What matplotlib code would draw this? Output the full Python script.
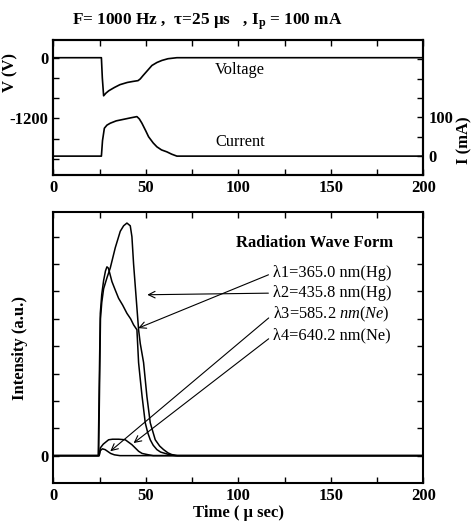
import matplotlib.pyplot as plt
import numpy as np

plt.rcParams['font.family'] = ['Liberation Serif', 'DejaVu Serif']
plt.rcParams['mathtext.default'] = 'regular'
plt.rcParams['mathtext.fontset'] = 'custom'
plt.rcParams['mathtext.it'] = 'Liberation Serif:italic'
plt.rcParams['mathtext.rm'] = 'Liberation Serif'

# top panel: voltage (V) and current (mA) against time (us)
t_v = [0, 26.0, 26.5, 27.2, 28.5, 30, 33, 36, 40, 43, 45.8, 47, 48.5, 51, 53.3, 56, 58.7, 62, 66.8, 100, 150, 200]
volt = [0, 0, -400, -754, -700, -654, -590, -534, -490, -470, -454, -420, -354, -250, -154, -95, -54, -20, 0, 0, 0, 0]
t_i = [0, 26.0, 26.6, 27.6, 29, 30.8, 34, 38, 42, 45.2, 46.5, 47.9, 50, 51.5, 54, 56, 58.5, 61.4, 64, 66.8, 100, 150, 200]
curr = [0, 0, 40, 72, 80, 85, 91, 95, 99, 102, 96, 85, 65, 50, 34, 24, 16, 11, 5, 0, 0, 0, 0]

# bottom panel: radiation intensity (a.u.)
t_l1 = [0, 24.3, 24.8, 25.4, 26.2, 27.2, 28.2, 29.0, 29.8, 31.7, 33.5, 35.3, 37.5, 39.8, 41.8, 43.4, 45.2,
        46.1, 47.0, 48.0, 49.7, 51.0, 52.4, 54, 56, 58, 60.5, 63, 66, 200]
i_l1 = [0, 0, 2.5, 5.2, 5.9, 6.4, 6.75, 6.9, 6.85, 6.36, 6.05, 5.75, 5.5, 5.2, 5.0, 4.78, 4.6,
        3.4, 2.8, 2.16, 1.2, 0.85, 0.58, 0.38, 0.22, 0.13, 0.08, 0.03, 0, 0]
t_l2 = [0, 24.5, 25.0, 25.5, 26.2, 27.2, 29, 30.8, 33.5, 36.2, 38, 39.8, 41.6, 42.5, 43.4, 44.3, 45.2,
        46.1, 47, 48.8, 50.6, 52.4, 55.1, 57.5, 59.6, 62, 64, 67, 200]
i_l2 = [0, 0, 2.5, 5.0, 5.6, 6.1, 6.5, 6.86, 7.6, 8.2, 8.4, 8.5, 8.4, 8.0, 7.0, 6.2, 5.4,
        4.6, 4.1, 3.4, 2.16, 1.2, 0.58, 0.35, 0.22, 0.1, 0.04, 0, 0]
t_l3 = [0, 24.8, 25.4, 26.5, 28, 29.5, 31, 33, 36, 200]
i_l3 = [0, 0, 0.18, 0.25, 0.22, 0.15, 0.08, 0.03, 0, 0]
t_l4 = [0, 24.8, 25.4, 27, 29.9, 32, 35.3, 38.9, 40.5, 42.5, 44, 46.1, 48, 51.5, 54, 200]
i_l4 = [0, 0, 0.28, 0.42, 0.58, 0.6, 0.6, 0.58, 0.5, 0.4, 0.3, 0.16, 0.08, 0.03, 0, 0]

labels = ['λ1=365.0 nm(Hg)', 'λ2=435.8 nm(Hg)', 'λ3=585.2 $\\mathit{nm(Ne)}$', 'λ4=640.2 nm(Ne)']
label_y = [6.67, 5.94, 5.15, 4.38]
arrow_tip = [(45.9, 4.66), (50.8, 5.88), (30.8, 0.16), (43.4, 0.46)]

bold = dict(fontweight='bold', fontsize=12)
plain = 11.8

fig = plt.figure(figsize=(4.75, 5.27), dpi=100)

# ---- top panel
ax1 = fig.add_axes([0.1122, 0.667, 0.779, 0.258])
ax1.plot(t_v, volt, color='k', lw=1.2)
ax1.set_xlim(0, 200)
ax1.set_ylim(-2332, 360)
ax1.set_yticks([0, -400, -800, -1200, -1600, -2000])
ax1.set_yticklabels(['0', '', '', '-1200', '', ''], **bold)
ax1.set_xticks([0, 50, 100, 150, 200])
ax1.set_xticklabels(['0', '50', '100', '150', '200'], **bold)
ax1.set_xticks([25, 75, 125, 175], minor=True)
ax1.tick_params(which='both', direction='in', top=True, length=4.5, width=1)
ax1.set_ylabel('V (V)', **bold)
ax1.yaxis.set_label_coords(-0.095, 0.754)
ax1.text(101, -250, 'Voltage', ha='center', va='center', fontsize=plain)

ax1r = ax1.twinx()
ax1r.plot(t_i, curr, color='k', lw=1.2)
ax1r.set_ylim(-50, 301)
ax1r.set_yticks([0, 50, 100, 150, 200, 250])
ax1r.set_yticklabels(['0', '', '100', '', '', ''], **bold)
ax1r.tick_params(direction='in', length=4.5, width=1)
ax1r.set_ylabel('I (mA)', **bold)
ax1r.yaxis.set_label_coords(1.09, 0.263)
ax1r.text(101, 36, 'Current', ha='center', va='center', fontsize=plain)

for ax in (ax1, ax1r):
    for s in ax.spines.values():
        s.set_linewidth(1.5)

fig.text(72 / 475, 1 - 22 / 527, 'F= 1000 Hz ,  τ=25 μs   , I$_p$ = 100 mA',
         ha='left', va='center', fontweight='bold', fontsize=12.4)

# ---- bottom panel
ax2 = fig.add_axes([0.1122, 0.0835, 0.779, 0.514])
for t, v in [(t_l1, i_l1), (t_l2, i_l2), (t_l3, i_l3), (t_l4, i_l4)]:
    ax2.plot(t, v, color='k', lw=1.1)
ax2.set_xlim(0, 200)
ax2.set_ylim(-1, 8.9)
ax2.set_yticks(range(0, 9))
ax2.set_yticklabels(['0'] + [''] * 8, **bold)
ax2.set_xticks([0, 50, 100, 150, 200])
ax2.set_xticklabels(['0', '50', '100', '150', '200'], **bold)
ax2.set_xticks([25, 75, 125, 175], minor=True)
ax2.tick_params(which='both', direction='in', top=True, right=True, length=4.5, width=1)
for s in ax2.spines.values():
    s.set_linewidth(1.5)
ax2.set_xlabel('Time ( μ sec)', labelpad=1, **bold)
ax2.set_ylabel('Intensity (a.u.)', **bold)
ax2.yaxis.set_label_coords(-0.068, 0.5)

ax2.text(141, 7.78, 'Radiation Wave Form', ha='center', va='center', **bold)
for lab, y, tip in zip(labels, label_y, arrow_tip):
    ax2.annotate(lab, xy=tip, xytext=(118.5, y), ha='left', va='center', fontsize=plain,
                 arrowprops=dict(arrowstyle='->', lw=0.8, color='k', shrinkA=1, shrinkB=0,
                                 relpos=(0, 0.5)))

fig.savefig('out.png', dpi=100)
